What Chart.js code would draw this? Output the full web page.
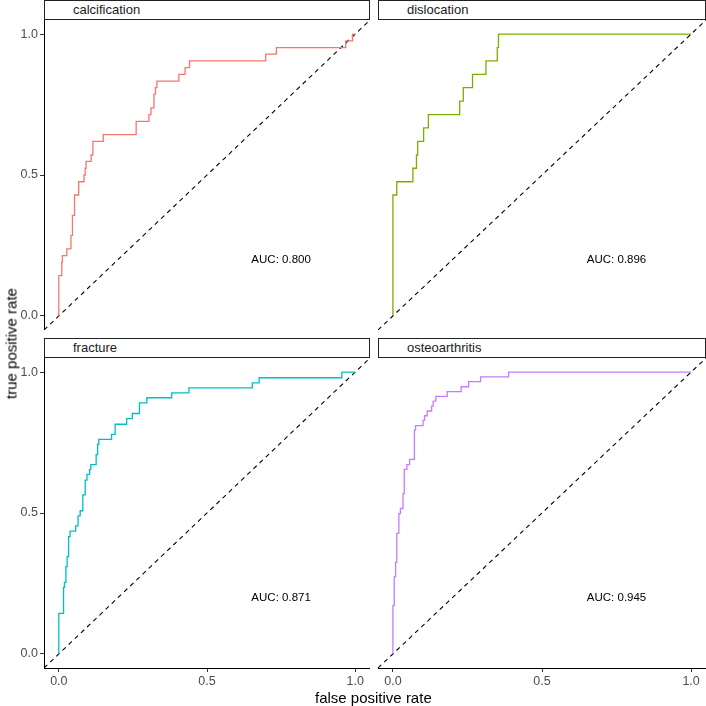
<!DOCTYPE html>
<html>
<head>
<meta charset="utf-8">
<script src="https://cdn.jsdelivr.net/npm/chart.js@4.4.0/dist/chart.umd.min.js"></script>
<style>
  body { margin: 0; background: #fff; }
  #wrap { position: relative; width: 706px; height: 706px; font-family: "Liberation Sans", Arial, sans-serif; }
  canvas { position: absolute; }
  .strip { position: absolute; box-sizing: border-box; border: 1px solid #222; background: #fff;
           height: 20px; line-height: 18px; font-size: 13px; color: #1a1a1a; padding-left: 28px; }
  .title { position: absolute; font-size: 15px; color: #000; white-space: nowrap; font-weight: normal; }
</style>
</head>
<body>
<div id="wrap">
  <canvas id="p0" width="370" height="310" style="left:0;top:20px"></canvas>
  <canvas id="p1" width="328" height="310" style="left:378px;top:20px"></canvas>
  <canvas id="p2" width="370" height="332" style="left:0;top:358px"></canvas>
  <canvas id="p3" width="328" height="332" style="left:378px;top:358px"></canvas>
  <div class="strip" id="s0" style="left:44px;top:0;width:326px"></div>
  <div class="strip" id="s1" style="left:378px;top:0;width:328px"></div>
  <div class="strip" id="s2" style="left:44px;top:338px;width:326px"></div>
  <div class="strip" id="s3" style="left:378px;top:338px;width:328px"></div>
  <div class="title" style="left:315px;top:689px">false positive rate</div>
  <div class="title" style="left:-54px;top:335px;transform:rotate(-90deg);width:130px;text-align:center">true positive rate</div>
</div>
<script>
// --- data ---
const panelNames = ['calcification', 'dislocation', 'fracture', 'osteoarthritis'];
const aucValues = ['0.800', '0.896', '0.871', '0.945'];
const tickValues = [0, 0.5, 1];
const diagLine = [-0.05, 1.05];

const calcFpr = [0, 0, 0.01, 0.012, 0.027, 0.041, 0.046, 0.053, 0.067, 0.085, 0.089, 0.092, 0.109, 0.115, 0.15, 0.261, 0.304, 0.311, 0.321, 0.326, 0.331, 0.405, 0.426, 0.441, 0.698, 0.734, 0.968, 0.991, 1];
const calcTpr = [0, 0.143, 0.19, 0.214, 0.238, 0.286, 0.357, 0.429, 0.476, 0.5, 0.524, 0.548, 0.571, 0.619, 0.643, 0.69, 0.714, 0.738, 0.786, 0.81, 0.833, 0.857, 0.881, 0.905, 0.929, 0.952, 0.976, 1, 1];

const dislFpr = [0, 0, 0.013, 0.067, 0.079, 0.083, 0.103, 0.119, 0.224, 0.236, 0.267, 0.312, 0.35, 0.354, 1];
const dislTpr = [0, 0.429, 0.476, 0.524, 0.571, 0.619, 0.667, 0.714, 0.762, 0.81, 0.857, 0.905, 0.952, 1, 1];

const fracFpr = [0, 0, 0.016, 0.019, 0.024, 0.028, 0.033, 0.038, 0.057, 0.065, 0.072, 0.081, 0.089, 0.095, 0.104, 0.108, 0.126, 0.131, 0.135, 0.178, 0.19, 0.229, 0.248, 0.272, 0.297, 0.381, 0.439, 0.653, 0.676, 0.955, 1];
const fracTpr = [0, 0.144, 0.236, 0.254, 0.31, 0.345, 0.416, 0.436, 0.454, 0.49, 0.508, 0.564, 0.617, 0.637, 0.654, 0.672, 0.707, 0.744, 0.761, 0.779, 0.815, 0.835, 0.853, 0.891, 0.909, 0.926, 0.944, 0.962, 0.98, 1, 1];

const osteoFpr = [0, 0, 0.0045, 0.009, 0.013, 0.02, 0.025, 0.034, 0.038, 0.047, 0.056, 0.072, 0.076, 0.101, 0.106, 0.115, 0.13, 0.135, 0.144, 0.182, 0.229, 0.254, 0.294, 0.388, 1];
const osteoTpr = [0, 0.171, 0.274, 0.325, 0.428, 0.498, 0.516, 0.569, 0.655, 0.672, 0.69, 0.794, 0.81, 0.829, 0.845, 0.862, 0.879, 0.897, 0.914, 0.931, 0.948, 0.966, 0.983, 1, 1];

const allFpr = [calcFpr, dislFpr, fracFpr, osteoFpr];
const allTpr = [calcTpr, dislTpr, fracTpr, osteoTpr];

// --- styles ---
const colors = ['#F8766D', '#7CAE00', '#00BFC4', '#C77CFF'];
const fontFam = '"Liberation Sans", Arial, sans-serif';
const aucPos = [0.75, 0.2];

// texto AUC dentro do painel
const aucLabel = {
  id: 'aucLabel',
  afterDatasetsDraw(chart, args, opts) {
    const { ctx, scales } = chart;
    ctx.save();
    ctx.font = '11.5px ' + fontFam;
    ctx.fillStyle = '#000';
    ctx.textAlign = 'center';
    ctx.textBaseline = 'middle';
    ctx.fillText(opts.text, scales.x.getPixelForValue(aucPos[0]), scales.y.getPixelForValue(aucPos[1]));
    ctx.restore();
  }
};

function axisOpts(show, horizontal) {
  return {
    type: 'linear',
    min: -0.05,
    max: 1.05,
    display: show,
    afterBuildTicks: s => { s.ticks = tickValues.map(v => ({ value: v })); },
    afterFit: s => {
      // tamanho fixo do eixo, sem padding extra
      if (horizontal) s.height = show ? 22 : 0;
      else s.width = show ? 44 : 0;
      s.paddingLeft = s.paddingRight = s.paddingTop = s.paddingBottom = 0;
    },
    grid: { drawOnChartArea: false, drawTicks: true, tickLength: 4, color: '#333' },
    border: { display: true, color: '#000', width: 1 },
    ticks: { color: '#4d4d4d', font: { size: 12.5, family: fontFam }, padding: 2, maxRotation: 0,
             autoSkip: false, callback: v => v.toFixed(1) }
  };
}

panelNames.forEach((name, i) => {
  document.getElementById('s' + i).textContent = name;
  const bottomRow = i >= 2;
  const leftCol = i % 2 === 0;
  const pts = allFpr[i].map((f, k) => ({ x: f, y: allTpr[i][k] }));

  new Chart(document.getElementById('p' + i), {
    type: 'line',
    data: {
      datasets: [{
        data: pts,
        borderColor: colors[i],
        borderWidth: 1.3,
        stepped: true,
        pointRadius: 0,
        fill: false
      }, {
        data: diagLine.map(v => ({ x: v, y: v })),
        borderColor: '#000',
        borderWidth: 1.1,
        borderDash: [4.5, 4],
        pointRadius: 0,
        fill: false
      }]
    },
    options: {
      responsive: false,
      animation: false,
      events: [],
      layout: { padding: 0 },
      scales: {
        x: axisOpts(bottomRow, true),
        y: axisOpts(leftCol, false)
      },
      plugins: {
        legend: { display: false },
        tooltip: { enabled: false },
        aucLabel: { text: 'AUC: ' + aucValues[i] }
      }
    },
    plugins: [aucLabel]
  });
});
</script>
</body>
</html>
